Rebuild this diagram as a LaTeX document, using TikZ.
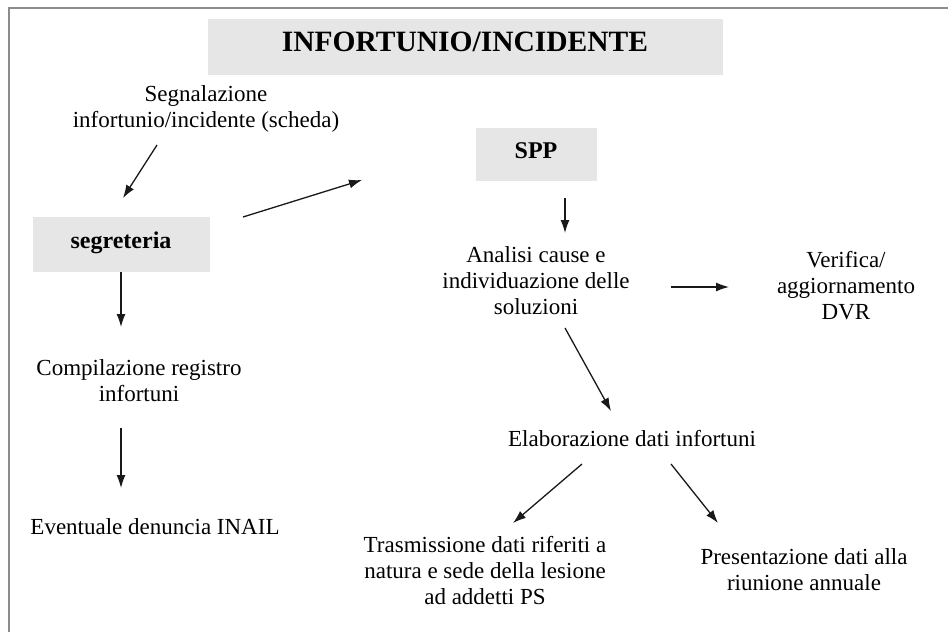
\documentclass[tikz,border=0pt]{standalone}
\usepackage{fontspec}
\setmainfont{Liberation Serif}
\usetikzlibrary{arrows.meta, positioning, calc}
\definecolor{boxgray}{RGB}{230,230,230}
\definecolor{framegray}{RGB}{140,140,140}

\begin{document}
\begin{tikzpicture}[x=1pt, y=-1pt,
    box/.style={rectangle, fill=boxgray, inner sep=0pt, align=center, text height=16pt, text depth=8pt, font=\fontsize{24}{28}\selectfont\bfseries},
    txt/.style={inner sep=0pt, align=center, font=\fontsize{23}{26}\selectfont},
    arr/.style={-{Latex[length=13pt, width=9pt]}, line width=1.3pt, color=black!90}
]
\useasboundingbox (0,0) rectangle (948,632);
\draw[framegray, line width=1.5pt] (9,632) -- (9,8) -- (948,8);

\node[box, minimum width=515, minimum height=56, text height=20pt, text depth=12pt, font=\fontsize{29.5}{32}\selectfont\bfseries] (title) at (465,47) {INFORTUNIO/INCIDENTE};
\node[box, minimum width=177, minimum height=55] (segr) at (121,244) {segreteria};
\node[box, minimum width=121, minimum height=53] (spp) at (536,154) {SPP};

\node[txt] (segn) at (206,109) {Segnalazione\\infortunio/incidente (scheda)};
\node[txt] (analisi) at (536,281) {Analisi cause e\\individuazione delle\\soluzioni};
\node[txt] (verifica) at (846,286) {Verifica/\\aggiornamento\\DVR};
\node[txt] (compil) at (139,381) {Compilazione registro\\infortuni};
\node[txt] (event) at (155,527) {Eventuale denuncia INAIL};
\node[txt] (elab) at (632,439) {Elaborazione dati infortuni};
\node[txt] (trasm) at (485,571) {Trasmissione dati riferiti a\\natura e sede della lesione\\ad addetti PS};
\node[txt] (present) at (804,570) {Presentazione dati alla\\riunione annuale};

\draw[arr] ($(segn)+(-49,36)$) -- ($(segr)+(2,-46)$);
\draw[arr] ($(segr)+(122,-27)$) -- ($(spp)+(-174,26)$);
\draw[arr] ($(spp)+(29,44)$) -- ($(analisi)+(29,-48)$);
\draw[arr] ($(analisi)+(135,6)$) -- ($(verifica)+(-117,1)$);
\draw[arr] (segr.south) -- ($(compil)+(-18,-54)$);
\draw[arr] ($(compil)+(-18,47)$) -- ($(event)+(-34,-39)$);
\draw[arr] ($(analisi)+(29,47)$) -- ($(elab)+(-21,-28)$);
\draw[arr] ($(elab)+(-50,25)$) -- ($(trasm)+(28,-48)$);
\draw[arr] ($(elab)+(39,25)$) -- ($(present)+(-86,-47)$);
\end{tikzpicture}
\end{document}
